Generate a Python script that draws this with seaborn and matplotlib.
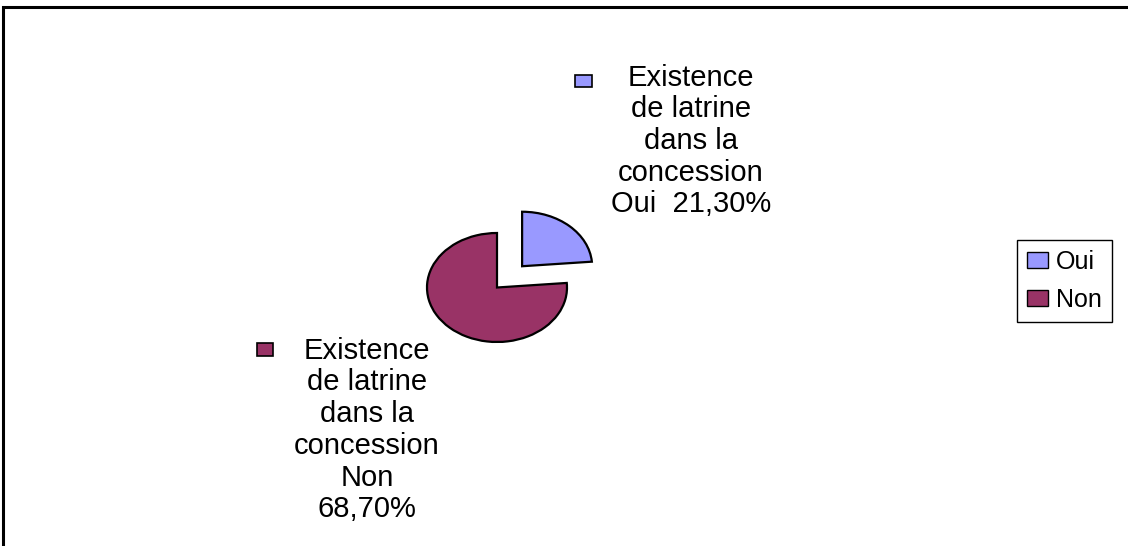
import matplotlib
matplotlib.use("Agg")
import matplotlib.pyplot as plt
from matplotlib.patches import Patch, Rectangle
import seaborn as sns

# Survey result: latrine present in the household compound
categories = ["Oui", "Non"]
values = [21.30, 68.70]
label_prefix = "Existence\nde latrine\ndans la\nconcession"

sns.set_theme(style="white")
plt.rcParams["font.family"] = ["Liberation Sans", "DejaVu Sans"]
plt.rcParams["text.color"] = "black"

colors = ["#9999FF", "#993366"]

W, H = 1128, 546
fig = plt.figure(figsize=(W / 100, H / 100), dpi=100)
fig.patch.set_facecolor("white")


def fx(x):
    return x / W


def fy(y):
    return 1 - y / H


# Outer frame of the chart area
fig.patches.append(Rectangle((fx(3), fy(600)), fx(1200), fy(7) - fy(600),
                             transform=fig.transFigure, fill=False,
                             edgecolor="black", linewidth=2.2, clip_on=False))

# Pie axes (stretched horizontally)
cx, cy, rx, ry = 497, 287.5, 70, 54.5
ax = fig.add_axes([fx(cx - 2 * rx), fy(cy + 2 * ry), 4 * rx / W, 4 * ry / H])
ax.pie(values, colors=colors, startangle=90, counterclock=False,
       explode=[0.53, 0],
       wedgeprops=dict(edgecolor="black", linewidth=1.6))
ax.set_aspect("auto")
ax.set_xlim(-2, 2)
ax.set_ylim(-2, 2)
ax.axis("off")

fs = 21
# Data labels with their colour keys
oui_txt = f"{label_prefix}\n{categories[0]}  {values[0]:.2f}%".replace(".", ",")
non_txt = f"{label_prefix}\n{categories[1]}\n{values[1]:.2f}%".replace(".", ",")

fig.text(fx(691), fy(141), oui_txt, ha="center", va="center",
         multialignment="center", fontsize=fs, linespacing=1.17, color="black")
fig.text(fx(367), fy(430), non_txt, ha="center", va="center",
         multialignment="center", fontsize=fs, linespacing=1.17, color="black")

for (x, y, w, h), c in [((575, 75, 17, 12), colors[0]), ((257, 343, 16, 13), colors[1])]:
    fig.patches.append(Rectangle((fx(x), fy(y + h)), w / W, h / H,
                                 transform=fig.transFigure, facecolor=c,
                                 edgecolor="black", linewidth=1.2))

handles = [Patch(facecolor=c, edgecolor="black", linewidth=1.0) for c in colors]
leg = fig.legend(handles, categories, loc="upper left",
                 bbox_to_anchor=(fx(1017), fy(240)), borderaxespad=0,
                 frameon=True, fancybox=False, framealpha=1,
                 edgecolor="black", fontsize=18, handlelength=0.85,
                 handleheight=0.6, handletextpad=0.3, labelspacing=0.55,
                 borderpad=0.4, labelcolor="black")
leg.get_frame().set_linewidth(1.0)

fig.savefig("out.png", dpi=100)
